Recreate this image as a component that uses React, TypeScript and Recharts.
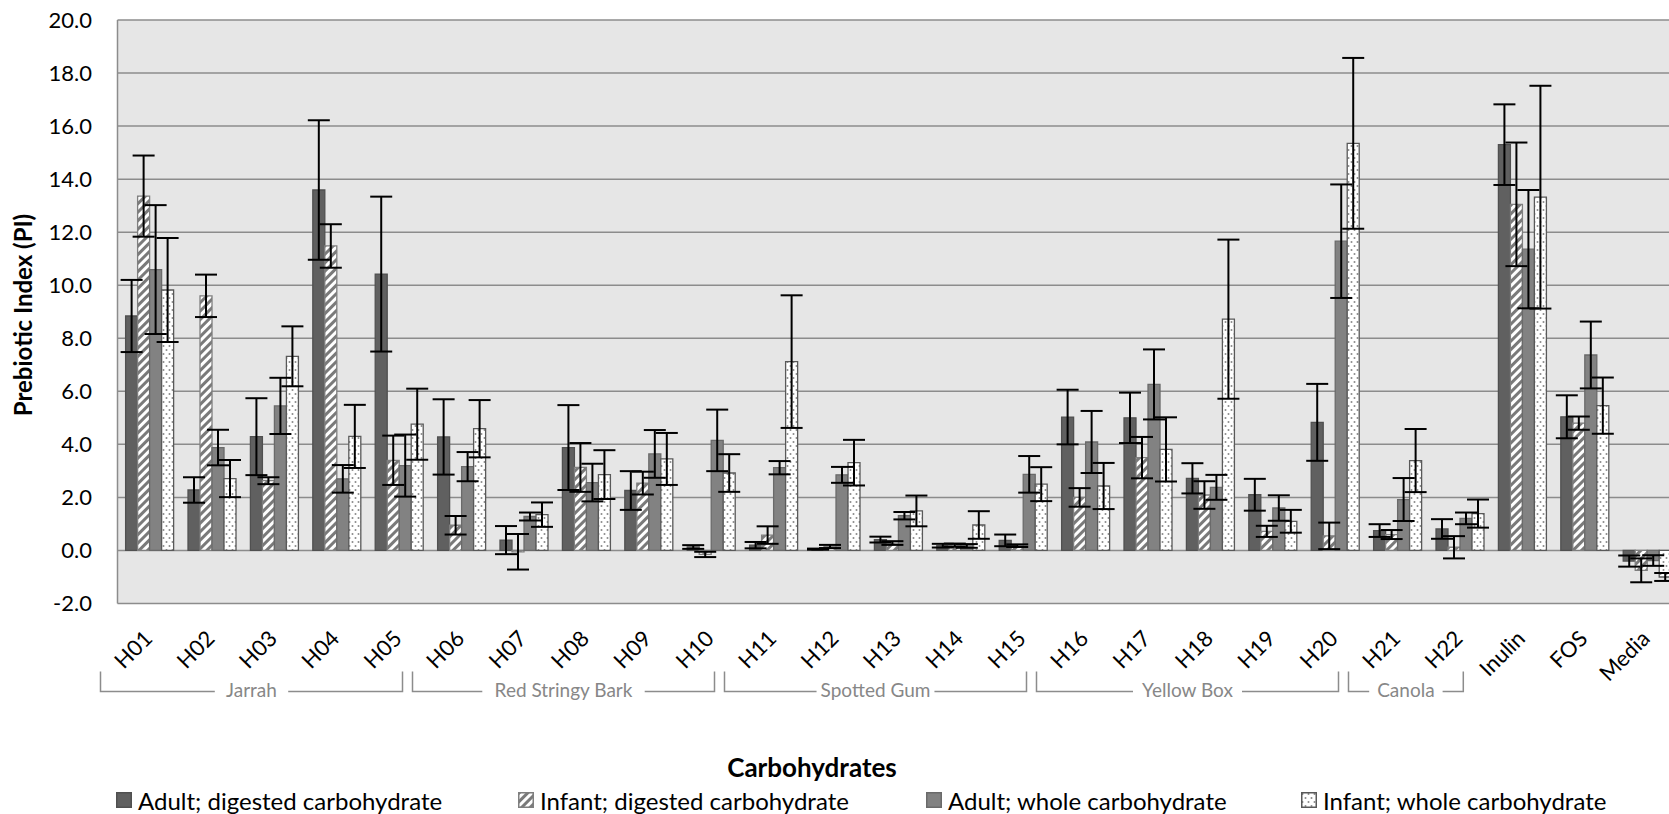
import { BarChart, Bar, XAxis, YAxis, CartesianGrid, ErrorBar, Label } from 'recharts'

const FONT = 'Lato, "Open Sans", sans-serif'

const CATEGORIES = [
  'H01', 'H02', 'H03', 'H04', 'H05', 'H06', 'H07', 'H08', 'H09', 'H10',
  'H11', 'H12', 'H13', 'H14', 'H15', 'H16', 'H17', 'H18', 'H19', 'H20',
  'H21', 'H22', 'Inulin', 'FOS', 'Media',
]

// mean prebiotic index per carbohydrate, with the error (±) for each
const ADULT_DIGESTED = [
  8.84, 2.28, 4.29, 13.59, 10.42, 4.28, 0.39, 3.88, 2.26, 0.13,
  0.2, 0.05, 0.41, 0.18, 0.38, 5.03, 5.0, 2.72, 2.1, 4.83,
  0.75, 0.81, 15.3, 5.04, -0.4,
]
const ADULT_DIGESTED_ERR = [
  1.36, 0.48, 1.45, 2.63, 2.92, 1.42, 0.53, 1.6, 0.73, 0.07,
  0.12, 0.02, 0.11, 0.07, 0.22, 1.03, 0.95, 0.57, 0.6, 1.45,
  0.24, 0.37, 1.52, 0.81, 0.21,
]

const INFANT_DIGESTED = [
  13.36, 9.6, 2.63, 11.48, 3.4, 0.95, -0.05, 3.13, 2.54, -0.15,
  0.58, 0.15, 0.28, 0.2, 0.18, 2.0, 3.5, 2.09, 0.72, 0.55,
  0.6, 0.12, 13.05, 4.8, -0.75,
]
const INFANT_DIGESTED_ERR = [
  1.53, 0.8, 0.13, 0.82, 0.93, 0.35, 0.67, 0.92, 0.43, 0.1,
  0.33, 0.06, 0.07, 0.06, 0.05, 0.35, 0.78, 0.52, 0.21, 0.5,
  0.17, 0.42, 2.33, 0.25, 0.45,
]

const ADULT_WHOLE = [
  10.59, 3.88, 5.45, 2.7, 3.2, 3.16, 1.28, 2.56, 3.64, 4.15,
  3.12, 2.85, 1.31, 0.17, 2.87, 4.09, 6.26, 2.38, 1.6, 11.66,
  1.92, 1.21, 11.36, 7.37, -0.38,
]
const ADULT_WHOLE_ERR = [
  2.43, 0.67, 1.06, 0.52, 1.17, 0.55, 0.15, 0.71, 0.9, 1.16,
  0.25, 0.3, 0.14, 0.07, 0.69, 1.17, 1.32, 0.47, 0.48, 2.14,
  0.81, 0.22, 2.23, 1.26, 0.2,
]

const INFANT_WHOLE = [
  9.82, 2.71, 7.32, 4.3, 4.76, 4.59, 1.35, 2.86, 3.45, 2.92,
  7.12, 3.31, 1.49, 0.96, 2.5, 2.43, 3.81, 8.72, 1.1, 15.35,
  3.39, 1.39, 13.32, 5.46, -1.0,
]
const INFANT_WHOLE_ERR = [
  1.96, 0.7, 1.13, 1.19, 1.34, 1.08, 0.46, 0.92, 0.98, 0.71,
  2.5, 0.86, 0.58, 0.52, 0.64, 0.87, 1.21, 3.0, 0.43, 3.22,
  1.19, 0.53, 4.2, 1.06, 0.15,
]

// plant source of each honey, by index into CATEGORIES
const GROUPS = [
  { name: 'Jarrah', first: 0, last: 4 },
  { name: 'Red Stringy Bark', first: 5, last: 9 },
  { name: 'Spotted Gum', first: 10, last: 14 },
  { name: 'Yellow Box', first: 15, last: 19 },
  { name: 'Canola', first: 20, last: 21 },
]

const Y_TICKS = [-2, 0, 2, 4, 6, 8, 10, 12, 14, 16, 18, 20]

const SERIES = [
  { key: 'adultDigested', label: 'Adult; digested carbohydrate', fill: '#606060', stroke: '#505050' },
  { key: 'infantDigested', label: 'Infant; digested carbohydrate', fill: 'url(#hatch)', stroke: '#7f7f7f' },
  { key: 'adultWhole', label: 'Adult; whole carbohydrate', fill: '#828282', stroke: '#6a6a6a' },
  { key: 'infantWhole', label: 'Infant; whole carbohydrate', fill: 'url(#dots)', stroke: '#595959' },
]

const data = CATEGORIES.map((name, i) => ({
  name,
  adultDigested: ADULT_DIGESTED[i],
  adultDigestedErr: ADULT_DIGESTED_ERR[i],
  infantDigested: INFANT_DIGESTED[i],
  infantDigestedErr: INFANT_DIGESTED_ERR[i],
  adultWhole: ADULT_WHOLE[i],
  adultWholeErr: ADULT_WHOLE_ERR[i],
  infantWhole: INFANT_WHOLE[i],
  infantWholeErr: INFANT_WHOLE_ERR[i],
}))

const CHART_W = 1680
const CHART_H = 814
const Y_AXIS_W = 117.5
const X_AXIS_H = 210.5
const MARGIN = { top: 20, right: 2.5, left: 0, bottom: 0 }
const BAND = (CHART_W - Y_AXIS_W - MARGIN.right) / CATEGORIES.length

function Patterns({ prefix = '' }: { prefix?: string }) {
  return (
    <defs>
      <pattern id={`${prefix}hatch`} patternUnits="userSpaceOnUse" width={6} height={6} patternTransform="rotate(45)">
        <rect width={6} height={6} fill="#ffffff" />
        <rect width={3} height={6} fill="#7a7a7a" />
      </pattern>
      <pattern id={`${prefix}dots`} patternUnits="userSpaceOnUse" width={6} height={8}>
        <rect width={6} height={8} fill="#ffffff" />
        <circle cx={1.5} cy={2} r={1} fill="#8a8a8a" />
        <circle cx={4.5} cy={6} r={1} fill="#8a8a8a" />
      </pattern>
    </defs>
  )
}

function GroupBracket({ x, y, group }: { x: number; y: number; group: (typeof GROUPS)[number] }) {
  const left = x - BAND / 2 - 17
  const right = x + (group.last - group.first) * BAND + BAND / 2 - 27
  const top = y + 68
  const bottom = y + 88
  const mid = (left + right) / 2
  const half = (group.name.length * 8.9) / 2 + 10
  return (
    <g>
      <path
        d={`M${left},${top} V${bottom} H${mid - half} M${mid + half},${bottom} H${right} V${top}`}
        fill="none"
        stroke="#8c8c8c"
        strokeWidth={1.5}
      />
      <text x={mid} y={bottom - 2} textAnchor="middle" dominantBaseline="central" fontSize={19} fontFamily={FONT} fill="#878787">
        {group.name}
      </text>
    </g>
  )
}

function CategoryTick(props: any) {
  const { x, y, payload, index } = props
  const lx = x + 5
  const ly = y + 36.5
  const group = GROUPS.find((g) => g.first === index)
  return (
    <g>
      <text
        x={lx}
        y={ly}
        transform={`rotate(-45, ${lx}, ${ly})`}
        textAnchor="end"
        fontSize={22}
        fontFamily={FONT}
        fill="#000"
      >
        {payload.value}
      </text>
      {group && <GroupBracket x={x} y={y} group={group} />}
    </g>
  )
}

function LegendSwatch({ fill, stroke }: { fill: string; stroke: string }) {
  return (
    <svg width={16} height={16} style={{ display: 'block' }}>
      <Patterns prefix="lg-" />
      <rect x={0.75} y={0.75} width={14.5} height={14.5} fill={fill.replace('url(#', 'url(#lg-')} stroke={stroke} strokeWidth={1.5} />
    </svg>
  )
}

const LEGEND_LEFT = [116, 518, 926, 1301]

export default function App() {
  return (
    <div style={{ position: 'absolute', left: 0, top: 0, width: 1669, height: 814, overflow: 'hidden', background: '#fff' }}>
      <BarChart
        width={CHART_W}
        height={CHART_H}
        data={data}
        margin={MARGIN}
        barCategoryGap="13%"
        barGap={0}
      >
        <Patterns />
        <CartesianGrid vertical={false} stroke="#8c8c8c" strokeWidth={1.5} fill="#e6e6e6" />
        <XAxis
          dataKey="name"
          height={X_AXIS_H}
          interval={0}
          axisLine={false}
          tickLine={false}
          tickSize={0}
          tickMargin={0}
          tick={<CategoryTick />}
        >
          <Label
            content={() => (
              <text x={812} y={777} textAnchor="middle" fontSize={26} fontWeight="bold" fontFamily={FONT} fill="#000">
                Carbohydrates
              </text>
            )}
          />
        </XAxis>
        <YAxis
          width={Y_AXIS_W}
          domain={[-2, 20]}
          ticks={Y_TICKS}
          interval={0}
          tickFormatter={(v: number) => v.toFixed(1)}
          tickLine={false}
          tickSize={0}
          tickMargin={25.5}
          axisLine={{ stroke: '#8c8c8c', strokeWidth: 1.5 }}
          tick={{ fill: '#000', fontSize: 22, fontFamily: FONT }}
        >
          <Label
            content={() => (
              <text x={31.5} y={315} transform="rotate(-90, 31.5, 315)" textAnchor="middle" fontSize={24} fontWeight="bold" fontFamily={FONT} fill="#000">
                Prebiotic Index (PI)
              </text>
            )}
          />
        </YAxis>
        {SERIES.map((s) => (
          <Bar key={s.key} dataKey={s.key} fill={s.fill} stroke={s.stroke} strokeWidth={1.3} isAnimationActive={false}>
            <ErrorBar dataKey={`${s.key}Err`} width={11} strokeWidth={2} stroke="#000" direction="y" />
          </Bar>
        ))}
      </BarChart>

      {SERIES.map((s, i) => (
        <div
          key={s.key}
          style={{
            position: 'absolute',
            left: LEGEND_LEFT[i],
            top: 786,
            height: 28,
            display: 'flex',
            alignItems: 'center',
            gap: 6,
            fontFamily: FONT,
            fontSize: 24,
            color: '#000',
            whiteSpace: 'nowrap',
          }}
        >
          <LegendSwatch fill={s.fill} stroke={s.stroke} />
          <span>{s.label}</span>
        </div>
      ))}
    </div>
  )
}
